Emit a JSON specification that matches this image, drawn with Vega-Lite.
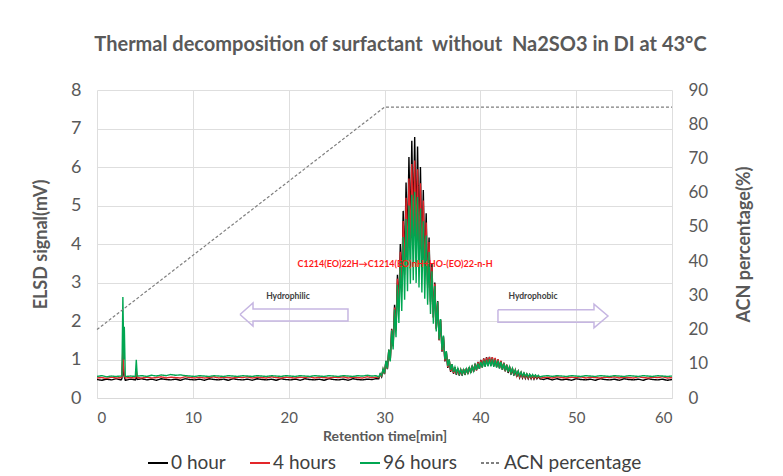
{
  "$schema": "https://vega.github.io/schema/vega-lite/v6.json",
  "width": 575,
  "height": 308,
  "autosize": {"type": "none"},
  "padding": {"left": 97, "top": 90, "right": 111, "bottom": 78},
  "background": "white",
  "title": {"text": "Thermal decomposition of surfactant\u00a0 without\u00a0 Na2SO3 in DI at 43°C", "fontSize": 20, "font": "Lato", "fontWeight": "bold", "color": "#595959", "anchor": "middle", "offset": 26, "dx": 16},
  "config": {"font": "Lato", "view": {"stroke": null}},
  "datasets": {
    "elsd": [
      {"t":0,"a":0.48,"b":0.52,"c":0.56},{"t":0.5,"a":0.46,"b":0.53,"c":0.58},{"t":1,"a":0.49,"b":0.51,"c":0.55},{"t":1.5,"a":0.47,"b":0.54,"c":0.57},{"t":2,"a":0.5,"b":0.52,"c":0.56},{"t":2.5,"a":0.47,"b":0.53,"c":0.57},{"t":2.6,"a":0.5,"b":0.55,"c":0.58},{"t":2.7,"a":1.06,"b":1.3,"c":2.62},{"t":2.8,"a":0.6,"b":0.7,"c":1.0},{"t":2.85,"a":0.55,"b":0.6,"c":1.85},{"t":2.95,"a":0.46,"b":0.52,"c":0.56},{"t":3.5,"a":0.49,"b":0.53,"c":0.57},{"t":4.0,"a":0.47,"b":0.52,"c":0.56},{"t":4.1,"a":0.55,"b":0.72,"c":0.99},{"t":4.2,"a":0.48,"b":0.53,"c":0.57},{"t":4.7,"a":0.5,"b":0.52,"c":0.58},{"t":5.2,"a":0.47,"b":0.54,"c":0.56},{"t":5.7,"a":0.49,"b":0.52,"c":0.59},{"t":6.2,"a":0.46,"b":0.53,"c":0.57},{"t":6.7,"a":0.5,"b":0.55,"c":0.6},{"t":7.2,"a":0.48,"b":0.52,"c":0.58},{"t":7.7,"a":0.47,"b":0.54,"c":0.61},{"t":8.2,"a":0.49,"b":0.53,"c":0.59},{"t":8.7,"a":0.46,"b":0.52,"c":0.6},{"t":9.2,"a":0.5,"b":0.55,"c":0.58},{"t":9.7,"a":0.48,"b":0.53,"c":0.57},{"t":10.2,"a":0.47,"b":0.52,"c":0.56},{"t":10.7,"a":0.49,"b":0.54,"c":0.58},{"t":11.2,"a":0.46,"b":0.52,"c":0.57},{"t":11.7,"a":0.5,"b":0.53,"c":0.56},{"t":12.2,"a":0.48,"b":0.55,"c":0.58},{"t":12.7,"a":0.47,"b":0.52,"c":0.57},{"t":13.2,"a":0.49,"b":0.54,"c":0.56},{"t":13.7,"a":0.46,"b":0.53,"c":0.58},{"t":14.2,"a":0.5,"b":0.52,"c":0.57},{"t":14.7,"a":0.48,"b":0.54,"c":0.56},{"t":15.2,"a":0.47,"b":0.53,"c":0.58},{"t":15.7,"a":0.49,"b":0.55,"c":0.57},{"t":16.2,"a":0.46,"b":0.52,"c":0.56},{"t":16.7,"a":0.5,"b":0.54,"c":0.58},{"t":17.2,"a":0.48,"b":0.53,"c":0.57},{"t":17.7,"a":0.47,"b":0.52,"c":0.56},{"t":18.2,"a":0.49,"b":0.55,"c":0.58},{"t":18.7,"a":0.46,"b":0.53,"c":0.57},{"t":19.2,"a":0.5,"b":0.52,"c":0.56},{"t":19.7,"a":0.48,"b":0.54,"c":0.58},{"t":20.2,"a":0.47,"b":0.53,"c":0.57},{"t":20.7,"a":0.49,"b":0.52,"c":0.56},{"t":21.2,"a":0.46,"b":0.54,"c":0.58},{"t":21.7,"a":0.5,"b":0.53,"c":0.57},{"t":22.2,"a":0.48,"b":0.55,"c":0.56},{"t":22.7,"a":0.47,"b":0.52,"c":0.58},{"t":23.2,"a":0.49,"b":0.54,"c":0.57},{"t":23.7,"a":0.46,"b":0.53,"c":0.56},{"t":24.2,"a":0.5,"b":0.52,"c":0.58},{"t":24.7,"a":0.48,"b":0.54,"c":0.57},{"t":25.2,"a":0.47,"b":0.53,"c":0.56},{"t":25.7,"a":0.49,"b":0.55,"c":0.58},{"t":26.2,"a":0.46,"b":0.52,"c":0.57},{"t":26.7,"a":0.5,"b":0.54,"c":0.56},{"t":27.2,"a":0.48,"b":0.53,"c":0.58},{"t":27.7,"a":0.47,"b":0.52,"c":0.57},{"t":28.2,"a":0.49,"b":0.55,"c":0.59},{"t":28.7,"a":0.48,"b":0.53,"c":0.57},{"t":29.1,"a":0.5,"b":0.54,"c":0.58},
      {"t":29.4,"a":0.5,"b":0.53,"c":0.55},{"t":29.55,"a":0.62,"b":0.6,"c":0.63},{"t":29.7,"a":0.55,"b":0.57,"c":0.58},{"t":29.85,"a":0.74,"b":0.75,"c":0.76},{"t":30.0,"a":0.62,"b":0.63,"c":0.64},{"t":30.15,"a":0.95,"b":0.96,"c":0.97},{"t":30.3,"a":0.75,"b":0.76,"c":0.77},{"t":30.45,"a":1.25,"b":1.25,"c":1.26},{"t":30.6,"a":0.98,"b":0.97,"c":0.95},{"t":30.75,"a":1.8,"b":1.78,"c":1.76},{"t":30.9,"a":1.35,"b":1.34,"c":1.26},{"t":31.05,"a":2.42,"b":2.35,"c":2.3},{"t":31.2,"a":1.8,"b":1.75,"c":1.58},{"t":31.35,"a":3.2,"b":3.1,"c":2.94},{"t":31.5,"a":2.35,"b":2.25,"c":1.95},{"t":31.65,"a":4.0,"b":3.8,"c":3.56},{"t":31.8,"a":2.9,"b":2.76,"c":2.26},{"t":31.95,"a":4.86,"b":4.6,"c":4.18},{"t":32.1,"a":3.45,"b":3.2,"c":2.55},{"t":32.25,"a":5.6,"b":5.2,"c":4.65},{"t":32.4,"a":3.9,"b":3.55,"c":2.77},{"t":32.55,"a":6.26,"b":5.7,"c":5.0},{"t":32.7,"a":4.3,"b":3.9,"c":2.97},{"t":32.85,"a":6.68,"b":6.08,"c":5.28},{"t":33.0,"a":4.5,"b":4.1,"c":3.06},{"t":33.15,"a":6.78,"b":6.17,"c":5.36},{"t":33.3,"a":4.4,"b":4.0,"c":2.99},{"t":33.45,"a":6.53,"b":5.94,"c":5.22},{"t":33.6,"a":4.1,"b":3.73,"c":2.87},{"t":33.75,"a":6.0,"b":5.58,"c":4.92},{"t":33.9,"a":3.75,"b":3.49,"c":2.74},{"t":34.05,"a":5.4,"b":5.13,"c":4.59},{"t":34.2,"a":3.35,"b":3.18,"c":2.58},{"t":34.35,"a":4.8,"b":4.56,"c":4.22},{"t":34.5,"a":2.95,"b":2.86,"c":2.42},{"t":34.65,"a":4.17,"b":4.05,"c":3.79},{"t":34.8,"a":2.5,"b":2.43,"c":2.18},{"t":34.95,"a":3.5,"b":3.4,"c":3.29},{"t":35.1,"a":2.1,"b":2.08,"c":1.93},{"t":35.25,"a":3.0,"b":2.97,"c":2.91},{"t":35.4,"a":1.8,"b":1.78,"c":1.73},{"t":35.55,"a":2.52,"b":2.5,"c":2.5},{"t":35.7,"a":1.5,"b":1.5,"c":1.52},{"t":35.85,"a":2.04,"b":2.02,"c":2.05},{"t":36.0,"a":1.2,"b":1.22,"c":1.25},{"t":36.15,"a":1.6,"b":1.58,"c":1.62},{"t":36.3,"a":0.95,"b":0.97,"c":1.0},{"t":36.45,"a":1.2,"b":1.2,"c":1.22},{"t":36.6,"a":0.78,"b":0.8,"c":0.83},{"t":36.75,"a":1.0,"b":0.99,"c":1.0},{"t":36.9,"a":0.68,"b":0.7,"c":0.73},{"t":37.05,"a":0.87,"b":0.87,"c":0.88},{"t":37.2,"a":0.63,"b":0.65,"c":0.68},{"t":37.35,"a":0.8,"b":0.8,"c":0.8},{"t":37.5,"a":0.6,"b":0.62,"c":0.65},{"t":37.65,"a":0.77,"b":0.76,"c":0.77},{"t":37.8,"a":0.58,"b":0.6,"c":0.63},{"t":37.95,"a":0.74,"b":0.74,"c":0.74},{"t":38.1,"a":0.58,"b":0.6,"c":0.62},{"t":38.25,"a":0.75,"b":0.75,"c":0.74},{"t":38.4,"a":0.6,"b":0.61,"c":0.63},{"t":38.55,"a":0.77,"b":0.77,"c":0.76},{"t":38.7,"a":0.62,"b":0.63,"c":0.65},{"t":38.85,"a":0.8,"b":0.8,"c":0.79},{"t":39.0,"a":0.65,"b":0.66,"c":0.67},{"t":39.15,"a":0.84,"b":0.84,"c":0.82},{"t":39.3,"a":0.68,"b":0.69,"c":0.7},{"t":39.45,"a":0.89,"b":0.88,"c":0.86},{"t":39.6,"a":0.72,"b":0.72,"c":0.73},{"t":39.75,"a":0.94,"b":0.93,"c":0.9},{"t":39.9,"a":0.76,"b":0.76,"c":0.76},{"t":40.05,"a":0.99,"b":0.98,"c":0.94},{"t":40.2,"a":0.8,"b":0.79,"c":0.79},{"t":40.35,"a":1.03,"b":1.02,"c":0.97},{"t":40.5,"a":0.83,"b":0.82,"c":0.81},{"t":40.65,"a":1.06,"b":1.05,"c":0.99},{"t":40.8,"a":0.85,"b":0.84,"c":0.82},{"t":40.95,"a":1.07,"b":1.06,"c":1.0},{"t":41.1,"a":0.85,"b":0.84,"c":0.82},{"t":41.25,"a":1.06,"b":1.06,"c":1.0},{"t":41.4,"a":0.83,"b":0.83,"c":0.81},{"t":41.55,"a":1.03,"b":1.04,"c":0.99},{"t":41.7,"a":0.8,"b":0.81,"c":0.79},{"t":41.85,"a":1.0,"b":1.01,"c":0.97},{"t":42.0,"a":0.77,"b":0.78,"c":0.77},{"t":42.15,"a":0.96,"b":0.97,"c":0.94},{"t":42.3,"a":0.73,"b":0.74,"c":0.74},{"t":42.45,"a":0.91,"b":0.92,"c":0.9},{"t":42.6,"a":0.69,"b":0.7,"c":0.71},{"t":42.75,"a":0.86,"b":0.87,"c":0.86},{"t":42.9,"a":0.65,"b":0.67,"c":0.68},{"t":43.05,"a":0.81,"b":0.82,"c":0.81},{"t":43.2,"a":0.61,"b":0.63,"c":0.65},{"t":43.35,"a":0.76,"b":0.77,"c":0.77},{"t":43.5,"a":0.58,"b":0.6,"c":0.62},{"t":43.65,"a":0.72,"b":0.73,"c":0.73},{"t":43.8,"a":0.55,"b":0.57,"c":0.6},{"t":43.95,"a":0.68,"b":0.69,"c":0.7},{"t":44.1,"a":0.53,"b":0.55,"c":0.58},{"t":44.25,"a":0.65,"b":0.66,"c":0.67},{"t":44.4,"a":0.52,"b":0.54,"c":0.57},{"t":44.55,"a":0.63,"b":0.63,"c":0.65},{"t":44.7,"a":0.51,"b":0.53,"c":0.56},{"t":44.85,"a":0.61,"b":0.62,"c":0.63},{"t":45.0,"a":0.5,"b":0.52,"c":0.55},{"t":45.15,"a":0.6,"b":0.6,"c":0.62},{"t":45.3,"a":0.5,"b":0.52,"c":0.55},{"t":45.45,"a":0.59,"b":0.59,"c":0.61},{"t":45.6,"a":0.49,"b":0.51,"c":0.55},{"t":45.75,"a":0.58,"b":0.58,"c":0.6},{"t":45.9,"a":0.5,"b":0.52,"c":0.55},{"t":46.05,"a":0.57,"b":0.57,"c":0.59},{"t":46.2,"a":0.5,"b":0.52,"c":0.55},
      {"t":46.6,"a":0.48,"b":0.53,"c":0.57},{"t":47.0,"a":0.51,"b":0.54,"c":0.58},{"t":47.5,"a":0.47,"b":0.52,"c":0.56},{"t":48.0,"a":0.5,"b":0.55,"c":0.58},{"t":48.5,"a":0.47,"b":0.53,"c":0.57},{"t":49.0,"a":0.49,"b":0.52,"c":0.56},{"t":49.5,"a":0.46,"b":0.54,"c":0.58},{"t":50.0,"a":0.5,"b":0.53,"c":0.57},{"t":50.5,"a":0.48,"b":0.55,"c":0.56},{"t":51.0,"a":0.47,"b":0.52,"c":0.58},{"t":51.5,"a":0.49,"b":0.54,"c":0.57},{"t":52.0,"a":0.46,"b":0.53,"c":0.56},{"t":52.5,"a":0.5,"b":0.52,"c":0.58},{"t":53.0,"a":0.48,"b":0.54,"c":0.57},{"t":53.5,"a":0.47,"b":0.53,"c":0.56},{"t":54.0,"a":0.49,"b":0.55,"c":0.58},{"t":54.5,"a":0.46,"b":0.52,"c":0.57},{"t":55.0,"a":0.5,"b":0.54,"c":0.56},{"t":55.5,"a":0.48,"b":0.53,"c":0.58},{"t":56.0,"a":0.47,"b":0.52,"c":0.57},{"t":56.5,"a":0.49,"b":0.55,"c":0.56},{"t":57.0,"a":0.46,"b":0.53,"c":0.58},{"t":57.5,"a":0.5,"b":0.52,"c":0.57},{"t":58.0,"a":0.48,"b":0.54,"c":0.56},{"t":58.5,"a":0.47,"b":0.53,"c":0.58},{"t":59.0,"a":0.49,"b":0.55,"c":0.57},{"t":59.5,"a":0.46,"b":0.52,"c":0.56},{"t":60.0,"a":0.48,"b":0.53,"c":0.57}
    ],
    "acn": [
      {"t": 0, "acn": 20, "s": "acn"},
      {"t": 30, "acn": 85, "s": "acn"},
      {"t": 60, "acn": 85, "s": "acn"}
    ],
    "arrows": [
      {"id": "L", "k": 1, "x": 14.92, "y": 2.17},
      {"id": "L", "k": 2, "x": 16.28, "y": 2.47},
      {"id": "L", "k": 3, "x": 16.28, "y": 2.31},
      {"id": "L", "k": 4, "x": 26.19, "y": 2.31},
      {"id": "L", "k": 5, "x": 26.19, "y": 2.0},
      {"id": "L", "k": 6, "x": 16.28, "y": 2.0},
      {"id": "L", "k": 7, "x": 16.28, "y": 1.87},
      {"id": "L", "k": 8, "x": 14.92, "y": 2.17},
      {"id": "R", "k": 1, "x": 41.84, "y": 2.29},
      {"id": "R", "k": 2, "x": 51.86, "y": 2.29},
      {"id": "R", "k": 3, "x": 51.86, "y": 2.44},
      {"id": "R", "k": 4, "x": 53.32, "y": 2.13},
      {"id": "R", "k": 5, "x": 51.86, "y": 1.82},
      {"id": "R", "k": 6, "x": 51.86, "y": 1.97},
      {"id": "R", "k": 7, "x": 41.84, "y": 1.97},
      {"id": "R", "k": 8, "x": 41.84, "y": 2.29}
    ],
    "notes": [
      {"x": 19.93, "y": 2.65, "label": "Hydrophilic"},
      {"x": 45.5, "y": 2.65, "label": "Hydrophobic"}
    ],
    "formula": [
      {"x": 31.1, "y": 3.48, "label": "C1214(EO)22H→C1214(EO)nH+HO-(EO)22-n-H"}
    ]
  },
  "layer": [
    {
      "data": {"name": "elsd"},
      "transform": [{"fold": ["a", "b", "c"], "as": ["s", "v"]}],
      "mark": {"type": "line", "strokeWidth": 1.4},
      "encoding": {
        "x": {"field": "t", "type": "quantitative", "scale": {"domain": [0, 60]},
          "axis": {"title": "Retention time[min]", "values": [0, 10, 20, 30, 40, 50, 60], "grid": true, "gridColor": "#dedede", "domain": true, "domainColor": "#d9d9d9", "ticks": false, "labelFontSize": 15, "labelColor": "#595959", "labelPadding": 12, "labelOverlap": false, "titleFontSize": 14, "titleFontWeight": "bold", "titleColor": "#595959", "titlePadding": 4}},
        "y": {"field": "v", "type": "quantitative", "scale": {"domain": [0, 8], "nice": false},
          "axis": {"orient": "left", "title": "ELSD signal(mV)", "values": [0, 1, 2, 3, 4, 5, 6, 7, 8], "grid": true, "gridColor": "#dedede", "domain": false, "ticks": false, "labelFontSize": 18, "labelColor": "#595959", "labelPadding": 16, "labelOverlap": false, "titleFontSize": 18, "titleFontWeight": "bold", "titleColor": "#595959", "titlePadding": 20}},
        "color": {"field": "s", "type": "nominal",
          "scale": {"domain": ["a", "b", "c", "acn"], "range": ["#000000", "#e3262a", "#00a651", "#7f7f7f"]},
          "legend": {"title": null, "orient": "none", "legendX": 50, "legendY": 362, "direction": "horizontal", "symbolType": "stroke", "symbolSize": 400, "symbolStrokeWidth": 2, "labelFontSize": 19, "labelColor": "#404040", "columnPadding": 20, "labelOffset": 2,
            "labelExpr": "datum.label == 'a' ? '0 hour' : datum.label == 'b' ? '4 hours' : datum.label == 'c' ? '96 hours' : 'ACN percentage'"}},
        "strokeDash": {"field": "s", "type": "nominal",
          "scale": {"domain": ["a", "b", "c", "acn"], "range": [[1, 0], [1, 0], [1, 0], [3, 2]]},
          "legend": {"title": null, "orient": "none", "legendX": 50, "legendY": 362, "direction": "horizontal", "symbolType": "stroke", "symbolSize": 400, "symbolStrokeWidth": 2, "labelFontSize": 19, "labelColor": "#404040", "columnPadding": 20, "labelOffset": 2,
            "labelExpr": "datum.label == 'a' ? '0 hour' : datum.label == 'b' ? '4 hours' : datum.label == 'c' ? '96 hours' : 'ACN percentage'"}}
      }
    },
    {
      "data": {"name": "arrows"},
      "mark": {"type": "line", "stroke": "#c6b6e2", "strokeWidth": 1.5},
      "encoding": {
        "x": {"field": "x", "type": "quantitative", "scale": {"domain": [0, 60]}},
        "y": {"field": "y", "type": "quantitative", "scale": {"domain": [0, 8], "nice": false}, "axis": null},
        "detail": {"field": "id"},
        "order": {"field": "k", "type": "quantitative"}
      }
    },
    {
      "data": {"name": "notes"},
      "mark": {"type": "text", "fontSize": 8.5, "fontWeight": "bold", "color": "#404040"},
      "encoding": {
        "x": {"field": "x", "type": "quantitative", "scale": {"domain": [0, 60]}},
        "y": {"field": "y", "type": "quantitative", "scale": {"domain": [0, 8], "nice": false}, "axis": null},
        "text": {"field": "label"}
      }
    },
    {
      "data": {"name": "formula"},
      "mark": {"type": "text", "fontSize": 9, "fontWeight": "bold", "color": "#ff1a1a"},
      "encoding": {
        "x": {"field": "x", "type": "quantitative", "scale": {"domain": [0, 60]}},
        "y": {"field": "y", "type": "quantitative", "scale": {"domain": [0, 8], "nice": false}, "axis": null},
        "text": {"field": "label"}
      }
    },
    {
      "data": {"name": "acn"},
      "mark": {"type": "line", "strokeWidth": 1.2},
      "encoding": {
        "x": {"field": "t", "type": "quantitative", "scale": {"domain": [0, 60]}},
        "y": {"field": "acn", "type": "quantitative", "scale": {"domain": [0, 90], "nice": false},
          "axis": {"orient": "right", "title": "ACN percentage(%)", "titleAngle": 270, "values": [0, 10, 20, 30, 40, 50, 60, 70, 80, 90], "grid": false, "domain": false, "ticks": false, "labelFontSize": 17, "labelColor": "#595959", "labelPadding": 16, "labelOverlap": false, "titleFontSize": 18, "titleFontWeight": "bold", "titleColor": "#595959", "titlePadding": 46}},
        "color": {"field": "s", "type": "nominal"},
        "strokeDash": {"field": "s", "type": "nominal"}
      }
    }
  ],
  "resolve": {"scale": {"y": "independent"}}
}
